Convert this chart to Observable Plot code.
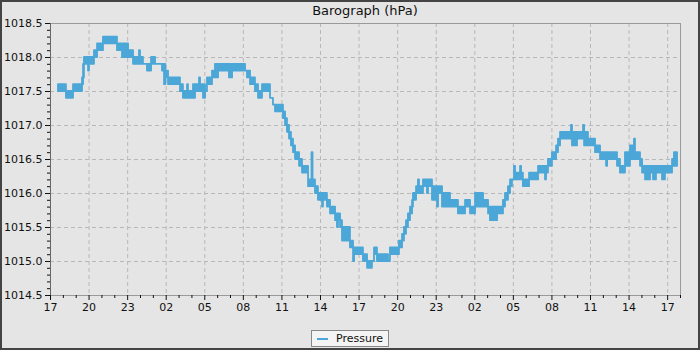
<!DOCTYPE html>
<html>
<head>
<meta charset="utf-8">
<script src="https://cdn.jsdelivr.net/npm/d3@7"></script>
<script src="https://cdn.jsdelivr.net/npm/@observablehq/plot@0.6"></script>
<style>
  html, body { margin: 0; padding: 0; background: #e5e5e5; }
  #wrap { position: relative; width: 700px; height: 350px; background: #e5e5e5; overflow: hidden; font-family: "DejaVu Sans", sans-serif; }
  #border { position: absolute; left: 0; top: 0; width: 700px; height: 350px; box-sizing: border-box; border: 2px solid #444; pointer-events: none; z-index: 5; }
  #title { position: absolute; left: 50px; top: 2px; width: 630px; text-align: center; font-size: 13px; line-height: 18px; color: #111; z-index: 3; }
  #chart { position: absolute; left: 0; top: 0; }
  #legend { position: absolute; left: 311px; top: 330px; width: 78px; height: 17px; box-sizing: border-box; background: #f4f4f4; border: 1px solid #888; font-size: 11px; line-height: 15px; color: #111; z-index: 3; }
  #legend .sw { position: absolute; left: 5px; top: 7px; width: 11px; height: 2px; background: #4ba7d7; }
  #legend .lb { position: absolute; left: 24px; top: 0px; }
</style>
</head>
<body>
<div id="wrap">
  <div id="chart"></div>
  <div id="title">Barograph (hPa)</div>
  <div id="legend"><span class="sw"></span><span class="lb">Pressure</span></div>
  <div id="border"></div>
</div>
<script>
// Hours since 17:00 on the first day at which each reading segment starts
const segStartHour = [0.62,1.24,1.79,2.49,2.57,2.64,2.96,3.03,3.42,3.66,4.12,5.21,5.60,6.07,6.46,6.92,7.00,7.23,7.54,7.86,8.17,8.71,8.87,8.97,9.18,10.11,10.34,10.66,10.73,11.12,11.28,11.59,11.67,11.90,12.06,12.21,12.60,12.83,13.07,13.92,14.16,15.17,15.32,15.56,15.94,16.18,16.49,17.11,17.34,17.50,18.12,18.28,18.43,18.59,18.74,18.90,19.06,19.37,19.60,20.07,20.34,20.42,20.61,20.84,21.16,21.23,21.54,21.78,22.17,22.32,22.40,22.56,22.71,23.33,23.57,23.65,24.34,24.66,25.04,25.20,25.43,26.29,26.44,27.14,27.38,27.53,27.69,27.84,28.00,28.16,28.23,28.47,28.62,28.70,29.01,29.32,29.40,29.71,30.10,30.18,30.49,31.11,31.73,32.28,32.67,33.06,33.68,34.07,34.22,34.77,35.23,35.39,35.62,35.78,35.93,36.09,36.17,36.24,36.56,36.64,36.78,37.26,37.96,38.50,38.58,38.73,39.04,39.36,39.51,39.67,40.52,40.60,40.99,41.46,41.54,41.84,42.39,42.78,43.25,43.33,44.10,44.33,44.72,45.11,45.42,45.50,45.89,46.05,46.28,46.67,46.90,47.13,47.60,47.83,48.38,48.53,48.77];
// Lowest / highest pressure reading (hPa) within each segment
const segLow = [1017.5,1017.4,1017.5,1017.6,1017.7,1017.9,1017.8,1017.9,1018.0,1018.1,1018.2,1018.1,1018.0,1018.0,1017.9,1017.9,1017.9,1017.9,1017.8,1017.9,1017.9,1017.8,1017.6,1017.7,1017.6,1017.5,1017.4,1017.4,1017.4,1017.4,1017.5,1017.5,1017.5,1017.4,1017.5,1017.6,1017.7,1017.7,1017.8,1017.7,1017.8,1017.8,1017.7,1017.6,1017.5,1017.4,1017.5,1017.4,1017.3,1017.2,1017.1,1017.0,1016.9,1016.8,1016.7,1016.6,1016.5,1016.4,1016.3,1016.1,1016.1,1016.1,1016.0,1015.9,1015.8,1015.9,1015.8,1015.7,1015.6,1015.5,1015.6,1015.5,1015.3,1015.2,1015.0,1015.1,1015.0,1014.9,1015.0,1015.1,1015.0,1015.0,1015.1,1015.2,1015.3,1015.4,1015.5,1015.6,1015.7,1015.8,1015.9,1016.0,1016.0,1016.0,1016.1,1016.0,1016.1,1015.9,1015.8,1016.0,1015.8,1015.8,1015.7,1015.8,1015.7,1015.8,1015.8,1015.7,1015.6,1015.7,1015.8,1015.9,1016.0,1016.1,1016.2,1016.2,1016.2,1016.2,1016.2,1016.2,1016.1,1016.2,1016.3,1016.2,1016.3,1016.4,1016.5,1016.6,1016.7,1016.8,1016.8,1016.7,1016.8,1016.8,1016.7,1016.7,1016.6,1016.5,1016.4,1016.5,1016.4,1016.3,1016.4,1016.5,1016.5,1016.5,1016.4,1016.3,1016.2,1016.3,1016.2,1016.3,1016.2,1016.3,1016.4,1016.4,1016.4];
const segHigh = [1017.6,1017.5,1017.6,1017.7,1017.9,1018.0,1018.0,1018.0,1018.1,1018.2,1018.3,1018.2,1018.2,1018.1,1018.0,1018.1,1018.0,1017.9,1017.9,1018.0,1017.9,1017.9,1017.9,1017.8,1017.7,1017.6,1017.5,1017.6,1017.5,1017.6,1017.6,1017.7,1017.6,1017.6,1017.5,1017.7,1017.8,1017.9,1017.9,1017.9,1017.9,1017.8,1017.8,1017.7,1017.6,1017.5,1017.6,1017.4,1017.3,1017.3,1017.2,1017.1,1017.0,1016.9,1016.8,1016.7,1016.6,1016.5,1016.4,1016.2,1016.6,1016.2,1016.1,1016.0,1016.0,1016.0,1015.9,1015.8,1015.7,1015.7,1015.7,1015.6,1015.5,1015.3,1015.2,1015.2,1015.1,1015.0,1015.0,1015.2,1015.1,1015.0,1015.2,1015.3,1015.4,1015.5,1015.6,1015.7,1015.8,1015.9,1016.0,1016.1,1016.2,1016.1,1016.2,1016.2,1016.2,1016.1,1016.1,1016.1,1016.0,1015.9,1015.8,1015.9,1015.8,1016.0,1015.9,1015.8,1015.8,1015.8,1015.9,1016.0,1016.1,1016.2,1016.2,1016.4,1016.2,1016.3,1016.4,1016.3,1016.2,1016.3,1016.4,1016.4,1016.4,1016.5,1016.6,1016.7,1016.8,1016.9,1017.0,1016.9,1016.9,1017.0,1016.9,1016.8,1016.7,1016.6,1016.6,1016.6,1016.5,1016.4,1016.6,1016.7,1016.8,1016.6,1016.5,1016.4,1016.4,1016.4,1016.4,1016.4,1016.4,1016.4,1016.5,1016.6,1016.6];

// Axis ticks and labels
const xTickHours = [0,3,6,9,12,15,18,21,24,27,30,33,36,39,42,45,48];
const xTickLabels = ["17","20","23","02","05","08","11","14","17","20","23","02","05","08","11","14","17"];
const xMinorHours = [1,2,4,5,7,8,10,11,13,14,16,17,19,20,22,23,25,26,28,29,31,32,34,35,37,38,40,41,43,44,46,47,49];
const yTicks = [1014.5,1015.0,1015.5,1016.0,1016.5,1017.0,1017.5,1018.0,1018.5];
const yMinor = [1014.6,1014.7,1014.8,1014.9,1015.1,1015.2,1015.3,1015.4,1015.6,1015.7,1015.8,1015.9,1016.1,1016.2,1016.3,1016.4,1016.6,1016.7,1016.8,1016.9,1017.1,1017.2,1017.3,1017.4,1017.6,1017.7,1017.8,1017.9,1018.1,1018.2,1018.3,1018.4];

const readings = segStartHour.map((h, i) => ({h, lo: segLow[i], hi: segHigh[i]}));
const labelOf = new Map(xTickHours.map((h, i) => [h, xTickLabels[i]]));
const blue = "#4ba7d7";

const chart = Plot.plot({
  width: 700,
  height: 320,
  marginLeft: 50,
  marginRight: 20,
  marginTop: 23,
  marginBottom: 25,
  style: {background: "transparent", fontFamily: "DejaVu Sans, sans-serif", fontSize: "11px", color: "#111", overflow: "visible"},
  x: {domain: [0, 49], label: null},
  y: {domain: [1014.5, 1018.5], label: null},
  marks: [
    Plot.gridX(xTickHours.slice(1), {stroke: "#b8b8b8", strokeOpacity: 1, strokeDasharray: "4,3"}),
    Plot.gridY(yTicks.slice(1, -1), {stroke: "#b8b8b8", strokeOpacity: 1, strokeDasharray: "4,3"}),
    Plot.frame({stroke: "#9a9a9a"}),
    Plot.ruleX([0], {stroke: "#666"}),
    Plot.axisX(xMinorHours, {tickSize: 3, text: null, stroke: "#111"}),
    Plot.axisX(xTickHours, {tickSize: 5, tickPadding: 3, tickFormat: d => labelOf.get(d), stroke: "#111", fill: "#111", label: null}),
    Plot.axisY(yMinor, {tickSize: 3, text: null, stroke: "#111"}),
    Plot.axisY(yTicks, {tickSize: 5, tickPadding: 3, tickFormat: d => d.toFixed(1), stroke: "#111", fill: "#111", label: null}),
    Plot.areaY(readings, {x: "h", y1: "lo", y2: "hi", curve: "step-after", fill: blue, stroke: blue, strokeWidth: 1.8})
  ]
});
document.getElementById("chart").appendChild(chart);
</script>
</body>
</html>
